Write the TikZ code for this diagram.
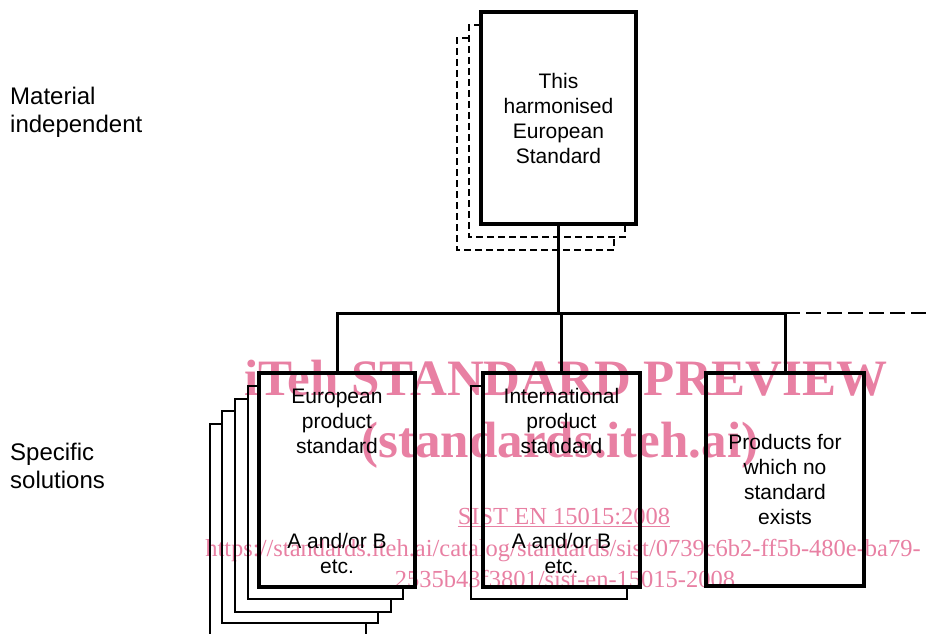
\documentclass[tikz,border=0pt]{standalone}
\usepackage{fontspec}
\setmainfont{Liberation Sans}
\newfontfamily\wmfont{Liberation Serif}
\definecolor{wmpink}{RGB}{232,128,163}
\begin{document}
\begin{tikzpicture}[x=1pt,y=-1pt,
  frontbox/.style={draw, line width=3.2pt, inner sep=0pt, outer sep=0pt},
  backline/.style={draw, line width=2pt},
  dashback/.style={draw, line width=1.6pt, dash pattern=on 7pt off 4pt},
  conn/.style={draw, line width=3pt},
  dashconn/.style={draw, line width=2.4pt, dash pattern=on 15pt off 6pt},
  boxtext/.style={align=center, font=\fontsize{21}{25}\selectfont, inner sep=0pt},
  sidetext/.style={align=left, font=\fontsize{24}{28}\selectfont, inner sep=0pt, anchor=west},
  wmbig/.style={text=wmpink, font=\wmfont\bfseries\fontsize{51}{51}\selectfont, inner sep=0pt, anchor=base},
  wmsmall/.style={text=wmpink, font=\wmfont\fontsize{24.5}{24.5}\selectfont, inner sep=0pt, anchor=base}
]
\useasboundingbox (0,0) rectangle (930,634);
\clip (0,0) rectangle (930,634);

% watermark (behind)
\node[wmbig] (w1) at (566,395) {iTeh STANDARD PREVIEW};
\node[wmbig] (w2) at (560,457) {(standards.iteh.ai)};
\node[wmsmall] (w3) at (564,524) {\underline{SIST EN 15015:2008}};
\node[wmsmall] (w4) at (563,556) {https://standards.iteh.ai/catalog/standards/sist/0739c6b2-ff5b-480e-ba79-};
\node[wmsmall] (w5) at (565,587) {2535b43f3801/sist-en-15015-2008};

% side labels
\node[sidetext] (mat) at (10,112) {Material\\independent};
\node[sidetext] (spec) at (10,466) {Specific\\solutions};

% top stack (dashed copies behind)
\path[dashback] (469,38) -- (457,38) -- (457,250) -- (614,250) -- (614,237);
\path[dashback] (481,25) -- (469,25) -- (469,237) -- (625,237) -- (625,224);
\node[frontbox, minimum width=155pt, minimum height=212pt] (T) at (558.5,118) {};
\node[boxtext] (Tt) at (T.center) {This\\harmonised\\European\\Standard};

% European stack
\path[backline] (222,424) -- (210,424) -- (210,645) -- (366,645) -- (366,623);
\path[backline] (235,411) -- (222,411) -- (222,623) -- (378,623) -- (378,612);
\path[backline] (248,399) -- (235,399) -- (235,612) -- (391,612) -- (391,599);
\path[backline] (259,386) -- (248,386) -- (248,599) -- (403,599) -- (403,587);
\node[frontbox, minimum width=156pt, minimum height=214pt] (A) at (337,480) {};
\node[boxtext] (At) at (337,421) {European\\product\\standard};
\node[boxtext] (Ab) at (337,553) {A and/or B\\etc.};

% International stack
\path[backline] (483,386) -- (471,386) -- (471,599) -- (627,599) -- (627,587);
\node[frontbox, minimum width=157pt, minimum height=214pt] (B) at (561.5,480) {};
\node[boxtext] (Bt) at (561.5,421) {International\\product\\standard};
\node[boxtext] (Bb) at (561.5,553) {A and/or B\\etc.};

% no standard
\node[frontbox, minimum width=158pt, minimum height=213pt] (C) at (785,479.5) {};
\node[boxtext] (Ct) at (C.center) {Products for\\which no\\standard\\exists};

% connectors
\coordinate (bus) at (0,313);
\coordinate (busend) at (932,313);
\path[conn] (T.south) -- (T.south |- bus);
\path[conn] (A.north) -- (A.north |- bus) -- (C.north |- bus) -- (C.north);
\path[conn] (B.north) -- (B.north |- bus);
\path[dashconn] (C.north |- bus) -- (busend);
\end{tikzpicture}
\end{document}
